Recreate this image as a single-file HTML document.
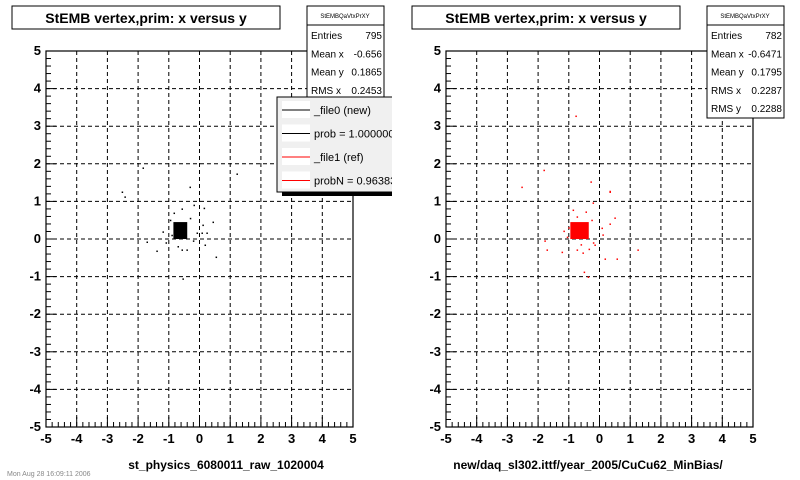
<!DOCTYPE html>
<html><head><meta charset="utf-8"><style>
body{margin:0;background:#fff;}
svg{display:block;font-family:"Liberation Sans",Arial,sans-serif;}
</style></head><body>
<svg id="c" width="800" height="480" viewBox="0 0 800 480"></svg>
<script>
const xTicks=[-5,-4,-3,-2,-1,0,1,2,3,4,5];
const yTicks=[-5,-4,-3,-2,-1,0,1,2,3,4,5];
const coreX0=[-0.85,-0.40];
const coreY0=[0.0,0.45];
const coreX1=[-0.95,-0.35];
const coreY1=[0.0,0.45];
const ptsX0=[-0.31,-0.18,0.15,0.44,-0.57,-0.83,0.11,0.08,0.24,-0.08,-1.19,-1.71,-1.39,-0.57,0.18,0.54,-1.09,-0.41,-0.54,-2.52,-2.43,-1.84,1.22,-0.95,-0.3,-0.7,-0.9,-0.2];
const ptsY0=[1.38,0.9,0.82,0.45,0.8,0.69,0.37,0.16,0.16,0.16,0.19,-0.08,-0.32,-0.29,-0.16,-0.48,-0.1,-0.29,-1.06,1.25,1.12,1.89,1.73,0.5,0.55,-0.2,0.1,-0.05];
const ptsX1=[-0.28,0.34,-0.21,0.5,0.34,-0.86,-0.44,-0.73,0.08,0.11,-1.16,-1.78,-1.71,-1.22,-0.73,-0.54,-0.34,-0.15,0.18,0.57,1.25,-0.5,-0.37,-0.77,-1.81,-2.53,0.34,-1.0,-0.25,-0.6,-1.05,-0.2];
const ptsY1=[1.52,1.25,0.96,0.56,0.4,0.77,0.72,0.59,0.29,0.11,0.21,-0.05,-0.29,-0.35,-0.29,-0.37,-0.27,-0.16,-0.53,-0.53,-0.29,-0.88,-1.01,3.27,1.83,1.38,1.27,0.3,0.5,-0.15,0.05,-0.1];
const stats0=[["Entries","795"],["Mean x","-0.656"],["Mean y","0.1865"],["RMS x","0.2453"]];
const stats1=[["Entries","782"],["Mean x","-0.6471"],["Mean y","0.1795"],["RMS x","0.2287"],["RMS y","0.2288"]];
const legendLabels=["_file0 (new)","prob = 1.000000","_file1 (ref)","probN = 0.963835"];
const legendColors=["#000","#000","#f00","#f00"];

const svg=document.getElementById('c');
const NS='http://www.w3.org/2000/svg';
function el(t,a,p){const e=document.createElementNS(NS,t);for(const k in a)e.setAttribute(k,a[k]);(p||svg).appendChild(e);return e;}

function panel(ox,core,cx,cy,px,py,color,stats,idx,xlabel,statH){
  const L=ox+46,R=ox+353,T=51,B=427;
  const sx=v=>L+(v+5)/10*(R-L), sy=v=>B-(v+5)/10*(B-T);
  const g=el('g',{});
  
  
  // grid
  xTicks.forEach(v=>{if(v>-5&&v<5){const l=el('line',{x1:sx(v),x2:sx(v),y1:T,y2:B,stroke:'#000','stroke-dasharray':'4,3','stroke-width':1},g);}});
  yTicks.forEach(v=>{if(v>-5&&v<5){const l=el('line',{x1:L,x2:R,y1:sy(v),y2:sy(v),stroke:'#000','stroke-dasharray':'4,3','stroke-width':1},g);}});
  // minor/major ticks
  for(let i=0;i<=50;i++){const v=-5+i*0.2;const len=(i%5===0)?10:5;
    el('line',{x1:sx(v),x2:sx(v),y1:B,y2:B-len,stroke:'#000'},g);
    el('line',{x1:L,x2:L+len,y1:sy(v),y2:sy(v),stroke:'#000'},g);}
  // frame
  const f=el('rect',{x:L,y:T,width:R-L,height:B-T,fill:'none',stroke:'#000','stroke-width':1.2},g);
  
  // core
  const cr=el('rect',{x:sx(cx[0]),y:sy(cy[1]),width:sx(cx[1])-sx(cx[0]),height:sy(cy[0])-sy(cy[1]),fill:color},g);
  
  for(let i=0;i<px.length;i++){const p=el('rect',{x:sx(px[i])-0.5,y:sy(py[i])-0.5,width:1.5,height:1.5,fill:color},g);
    }
  // tick labels
  xTicks.forEach(v=>{const t=el('text',{x:sx(v),y:443,'font-size':13,'font-weight':'bold','text-anchor':'middle'},g);t.textContent=v;
    });
  yTicks.forEach(v=>{const t=el('text',{x:L-5,y:sy(v)+4,'font-size':13,'font-weight':'bold','text-anchor':'end'},g);t.textContent=v;
    });
  const xl=el('text',{x:ox+(idx?588-400:226),y:469,'font-size':12,'font-weight':'bold','text-anchor':'middle'},g);xl.textContent=xlabel;
  
  // title
  const tb=el('rect',{x:ox+12,y:6,width:268,height:23,fill:'#fff',stroke:'#000'},g);
  
  const tt=el('text',{x:ox+146,y:23,'font-size':14,'font-weight':'bold','text-anchor':'middle'},g);tt.textContent='StEMB  vertex,prim: x versus y';
  
  // stats
  const sb=el('g',{},g);
  el('rect',{x:ox+307,y:6,width:77,height:statH,fill:'#fff',stroke:'#000'},sb);
  el('line',{x1:ox+307,x2:ox+384,y1:25,y2:25,stroke:'#000'},sb);
  const h=el('text',{x:ox+345,y:18,'font-size':6,'text-anchor':'middle'},sb);h.textContent='StEMBQaVtxPrXY';
  stats.forEach((s,i)=>{const y=39+i*18.3;
    const a=el('text',{x:ox+311,y:y,'font-size':10},sb);a.textContent=s[0];
    const b=el('text',{x:ox+382,y:y,'font-size':10,'text-anchor':'end'},sb);b.textContent=s[1];});
}
panel(0,null,coreX0,coreY0,ptsX0,ptsY0,'#000',stats0,0,'st_physics_6080011_raw_1020004',92);
panel(400,null,coreX1,coreY1,ptsX1,ptsY1,'#f00',stats1,1,'new/daq_sl302.ittf/year_2005/CuCu62_MinBias/',112);
// legend
const lg=el('g',{});
const clip=el('clipPath',{id:'lc'},lg);el('rect',{x:270,y:90,width:122,height:110},clip);
const lgi=el('g',{'clip-path':'url(#lc)'},lg);
el('rect',{x:282,y:100,width:120,height:96,fill:'#000'},lgi);
el('rect',{x:277,y:97,width:125,height:95,fill:'#f0f0f0',stroke:'#000'},lgi);
legendLabels.forEach((s,i)=>{const y=110+i*23.5;
  const e=el('g',{},lgi);
  el('rect',{x:282,y:y-9,width:28,height:17,fill:'#fff'},e);
  el('line',{x1:282,x2:310,y1:y,y2:y,stroke:legendColors[i],'stroke-width':1},e);
  const t=el('text',{x:314,y:y+4,'font-size':11},e);t.textContent=s;});
const ft=el('text',{x:7,y:476,'font-size':7,fill:'#888'});ft.textContent='Mon Aug 28 16:09:11 2006';

</script>
</body></html>
